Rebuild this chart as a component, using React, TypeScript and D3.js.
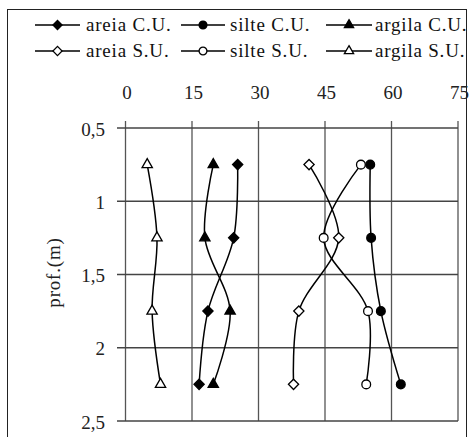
import * as d3 from "d3";

// depth (m) for each sample
const depths = [0.75, 1.25, 1.75, 2.25];

// values per series, one per depth
const areiaCU = [25.3, 24.4, 18.6, 16.6];
const silteCU = [55.2, 55.4, 57.6, 62.1];
const argilaCU = [19.8, 17.9, 23.6, 19.8];
const areiaSU = [41.4, 48.1, 39.1, 37.9];
const silteSU = [53.1, 44.7, 54.7, 54.3];
const argilaSU = [4.9, 7.1, 6.0, 7.9];

const xTicks = [0, 15, 30, 45, 60, 75];
const yTicks = [0.5, 1, 1.5, 2, 2.5];

const series = [
  { name: "areia C.U.", values: areiaCU, shape: "diamond", filled: true },
  { name: "silte C.U.", values: silteCU, shape: "circle", filled: true },
  { name: "argila C.U.", values: argilaCU, shape: "triangle", filled: true },
  { name: "areia S.U.", values: areiaSU, shape: "diamond", filled: false },
  { name: "silte S.U.", values: silteSU, shape: "circle", filled: false },
  { name: "argila S.U.", values: argilaSU, shape: "triangle", filled: false },
];

const W = 472;
const H = 437;
const font = "'Liberation Serif', 'DejaVu Serif', serif";

const x = d3.scaleLinear().domain([0, 75]).range([125.5, 458]);
const y = d3.scaleLinear().domain([0.5, 2.5]).range([128, 421]);

function markerPath(shape, small) {
  const k = small ? 0.8 : 1;
  if (shape === "diamond") return d3.symbol(d3.symbolSquare, 52 * k)();
  if (shape === "circle") return d3.symbol(d3.symbolCircle, 60 * k)();
  return d3.symbol(d3.symbolTriangle, 46 * k)();
}

function Marker({ shape, filled, cx, cy, small = false }) {
  const rot = shape === "diamond" ? " rotate(45)" : "";
  return (
    <path
      d={markerPath(shape, small)}
      transform={`translate(${cx},${cy})${rot}`}
      fill={filled ? "#000" : "#fff"}
      stroke="#000"
      strokeWidth={1.3}
    />
  );
}

// legend positions: [lineStart, lineEnd, textX]
const legendCols = [
  [35, 80, 86],
  [181, 225, 230],
  [326, 372, 375],
];
const legendRows = [25, 51];

export default function App() {
  const line = d3
    .line<number>()
    .x((d) => x(d))
    .y((_, i) => y(depths[i]))
    .curve(d3.curveCatmullRom.alpha(0.5));

  return (
    <svg
      width={W}
      height={H}
      style={{ position: "absolute", left: 0, top: 0, background: "#fff" }}
      fontFamily={font}
    >
      {/* outer chart frame */}
      <rect x={7.5} y={9.5} width={459} height={440} fill="none" stroke="#222" strokeWidth={1} />

      {/* legend */}
      {series.map((s, i) => {
        const col = legendCols[i % 3];
        const ry = legendRows[Math.floor(i / 3)];
        const mx = (col[0] + col[1]) / 2;
        return (
          <g key={s.name}>
            <line x1={col[0]} x2={col[1]} y1={ry} y2={ry} stroke="#000" strokeWidth={1.5} />
            <Marker shape={s.shape} filled={s.filled} cx={mx} cy={ry} small />
            <text x={col[2]} y={ry} dy="0.33em" fontSize={19} letterSpacing={0.8} fill="#111">
              {s.name}
            </text>
          </g>
        );
      })}

      {/* grid */}
      {xTicks.map((t) => (
        <g key={"x" + t}>
          <line x1={x(t)} x2={x(t)} y1={121} y2={y(2.5)} stroke="#555" strokeWidth={1.3} />
          <text x={x(t) + 1.5} y={92} dy="0.35em" textAnchor="middle" fontSize={19} fill="#222">
            {t}
          </text>
        </g>
      ))}
      {yTicks.map((t) => (
        <g key={"y" + t}>
          <line x1={117} x2={x(75)} y1={y(t)} y2={y(t)} stroke="#444" strokeWidth={1.3} />
          <text x={105} y={y(t) + 1} dy="0.35em" textAnchor="end" fontSize={19} fill="#222">
            {String(t).replace(".", ",")}
          </text>
        </g>
      ))}

      <text
        transform={`translate(53,${(y(0.5) + y(2.5)) / 2 - 2}) rotate(-90)`}
        textAnchor="middle"
        dy="0.35em"
        fontSize={19}
        letterSpacing={0.8}
        fill="#222"
      >
        prof.(m)
      </text>

      {/* series */}
      {series.map((s) => (
        <g key={"s" + s.name}>
          <path d={line(s.values) || ""} fill="none" stroke="#000" strokeWidth={1.5} />
          {s.values.map((v, i) => (
            <Marker key={i} shape={s.shape} filled={s.filled} cx={x(v)} cy={y(depths[i])} />
          ))}
        </g>
      ))}
    </svg>
  );
}
